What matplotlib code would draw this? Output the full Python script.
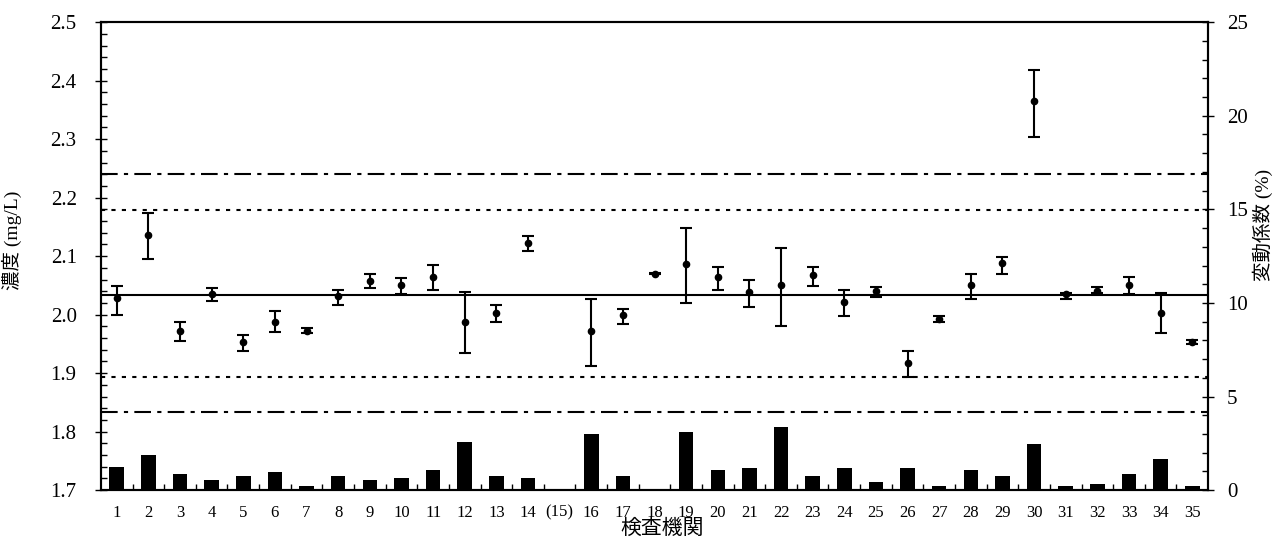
import numpy as np
import matplotlib.pyplot as plt
from matplotlib.ticker import MultipleLocator, FixedLocator

plt.rcParams['font.family'] = ['Liberation Serif', 'Noto Sans CJK JP']

# DATA
labs = list(range(1, 36))
tick_labels = [str(i) if i != 15 else '(15)' for i in labs]

# mean concentration (mg/L), error bar top / bottom; None = no result (lab 15)
conc = [2.029, 2.136, 1.972, 2.035, 1.953, 1.988, 1.972, 2.032, 2.058, 2.051,
        2.064, 1.988, 2.003, 2.123, None, 1.972, 1.999, 2.070, 2.087, 2.064,
        2.038, 2.051, 2.068, 2.022, 2.041, 1.918, 1.992, 2.051, 2.088, 2.365,
        2.035, 2.041, 2.051, 2.002, 1.953]
err_top = [2.049, 2.174, 1.987, 2.046, 1.965, 2.007, 1.978, 2.043, 2.069, 2.062,
           2.085, 2.039, 2.016, 2.134, None, 2.026, 2.010, 2.071, 2.148, 2.082,
           2.059, 2.114, 2.082, 2.043, 2.047, 1.938, 1.997, 2.069, 2.098, 2.418,
           2.037, 2.047, 2.065, 2.037, 1.956]
err_bot = [2.000, 2.095, 1.955, 2.023, 1.938, 1.971, 1.968, 2.016, 2.046, 2.036,
           2.043, 1.935, 1.987, 2.109, None, 1.912, 1.984, 2.069, 2.020, 2.043,
           2.013, 1.981, 2.049, 1.997, 2.030, 1.893, 1.988, 2.026, 2.069, 2.304,
           2.027, 2.037, 2.035, 1.968, 1.949]

# coefficient of variation (%)
cv = [1.26, 1.87, 0.85, 0.55, 0.74, 0.96, 0.24, 0.74, 0.55, 0.63,
      1.07, 2.59, 0.74, 0.63, 0.0, 2.99, 0.74, 0.0, 3.11, 1.07,
      1.16, 3.40, 0.74, 1.16, 0.44, 1.16, 0.24, 1.07, 0.74, 2.48,
      0.24, 0.35, 0.85, 1.66, 0.24]

# reference lines
center = 2.034
inner = (1.894, 2.179)
outer = (1.833, 2.241)

# FIGURE
fig = plt.figure(figsize=(12.73, 5.41), dpi=100)
ax = fig.add_axes([0.0793, 0.094, 0.8697, 0.865])
ax2 = ax.twinx()

# bars on the CV axis (behind the points)
ax2.bar(labs, cv, width=0.46, color='black', zorder=1)

# points with error bars on the concentration axis
x_ok = [x for x, c in zip(labs, conc) if c is not None]
y_ok = np.array([c for c in conc if c is not None])
top_ok = np.array([t for t in err_top if t is not None])
bot_ok = np.array([b for b in err_bot if b is not None])
ax.errorbar(x_ok, y_ok, yerr=[y_ok - bot_ok, top_ok - y_ok], fmt='o', color='black',
            ms=4.5, capsize=4, capthick=1.5, elinewidth=1.5, zorder=5)

ax.axhline(center, color='black', lw=1.5, zorder=3)
for v in inner:
    ax.axhline(v, color='black', lw=1.5, ls=(0, (2, 3)), zorder=3)
for v in outer:
    ax.axhline(v, color='black', lw=1.5, ls=(0, (8, 3, 2, 3)), zorder=3)

# put the concentration axis on top of the bars
ax.set_zorder(ax2.get_zorder() + 1)
ax.patch.set_visible(False)

ax.set_xlim(0.5, 35.5)
ax.set_ylim(1.7, 2.5)
ax2.set_ylim(0, 25)

ax.set_xticks(labs)
ax.set_xticklabels(tick_labels, fontsize=12, va='baseline')
ax.xaxis.set_minor_locator(FixedLocator(np.arange(1.5, 35.5, 1.0)))
ax.tick_params(axis='x', which='major', length=0, pad=19)
ax.tick_params(axis='x', which='minor', direction='in', length=4, width=1)
ax.tick_params(axis='x', which='both', top=False)

ax.yaxis.set_minor_locator(MultipleLocator(0.02))
ax.set_yticks(np.arange(1.7, 2.51, 0.1))
ax.set_yticklabels([f'{v:.1f}' for v in np.arange(1.7, 2.51, 0.1)])
ax.tick_params(axis='y', which='major', direction='inout', length=9, width=1, labelsize=15, pad=13)
ax.tick_params(axis='y', which='minor', direction='in', length=4, width=1)

ax2.yaxis.set_major_locator(MultipleLocator(5))
ax2.yaxis.set_minor_locator(MultipleLocator(1))
ax2.tick_params(axis='y', which='major', direction='inout', length=9, width=1, labelsize=15, pad=9)
ax2.tick_params(axis='y', which='minor', direction='in', length=4, width=1)

for a in (ax, ax2):
    for s in a.spines.values():
        s.set_linewidth(1.5)

ax.set_xlabel('検査機関', fontsize=15)
ax.xaxis.set_label_coords(0.507, -0.062)
ax.set_ylabel('濃度 (mg/L)', fontsize=14)
ax.yaxis.set_label_coords(-0.071, 0.534)
ax2.set_ylabel('変動係数 (%)', fontsize=14)
ax2.yaxis.set_label_coords(1.040, 0.566)

fig.savefig('out.png', dpi=100)
